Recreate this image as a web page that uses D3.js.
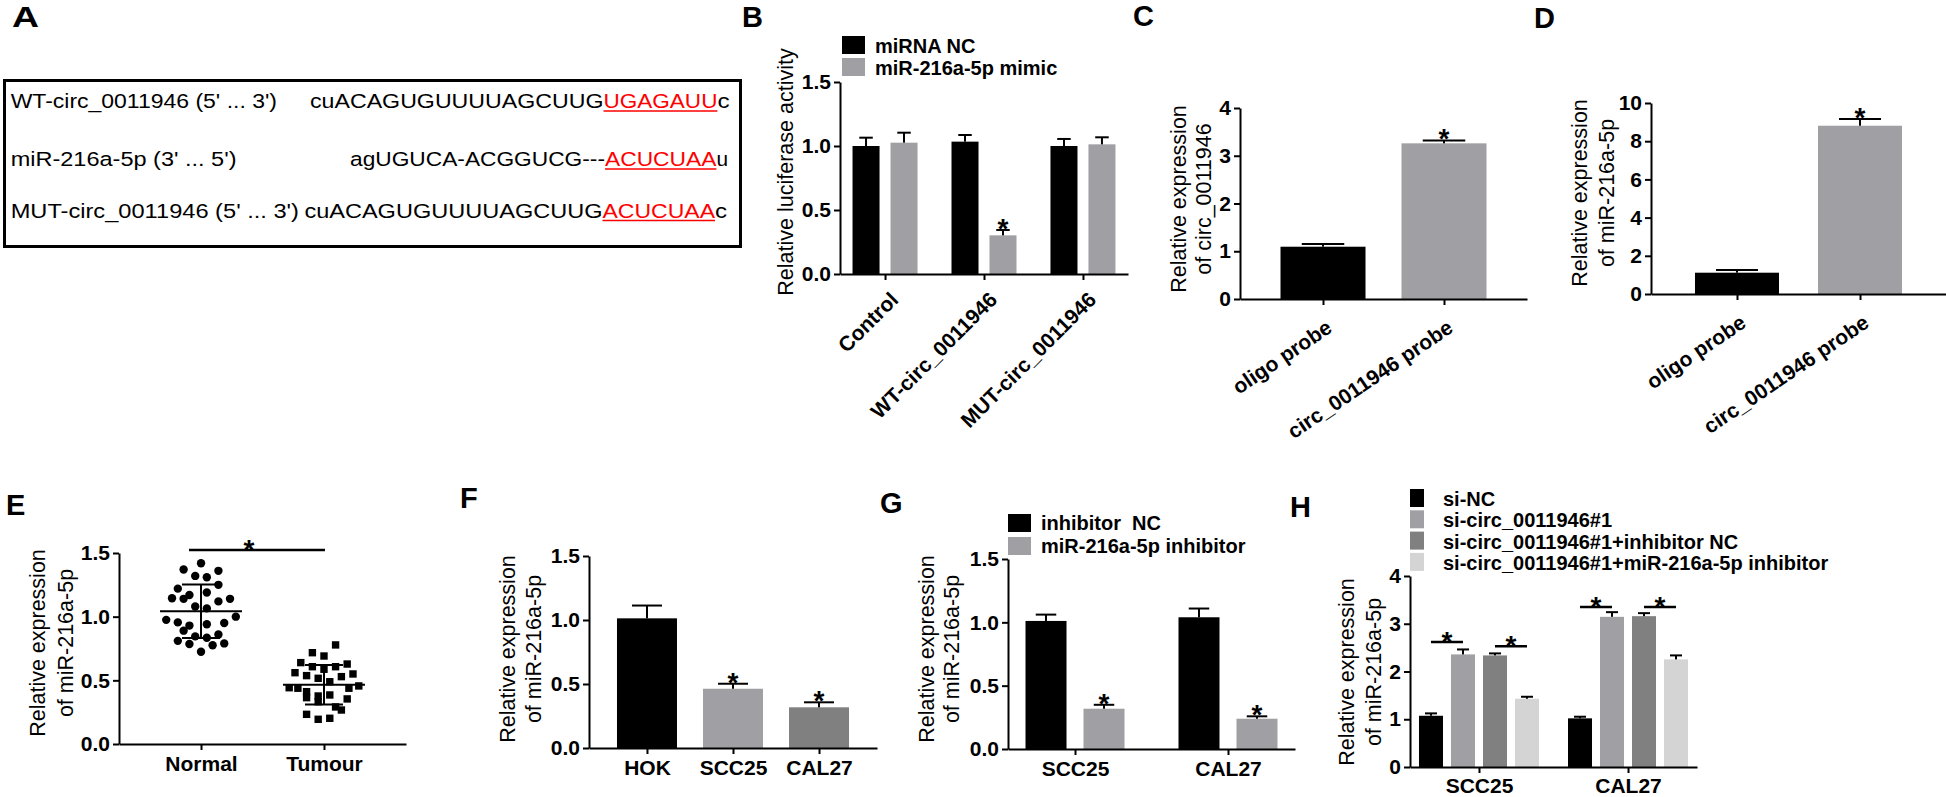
<!DOCTYPE html>
<html>
<head>
<meta charset="utf-8">
<script src="https://cdn.jsdelivr.net/npm/d3@7"></script>
<style>
    body { margin: 0; background: #fff; }
    svg text { font-family: "Liberation Sans", Arial, Helvetica, sans-serif; }
</style>
</head>
<body>
<div id="figure"></div>
<script>
// ---- data ----
// A: sequence alignment
var seqLabels = ["WT-circ_0011946 (5' ... 3')", "miR-216a-5p (3' ... 5')", "MUT-circ_0011946 (5' ... 3')"];
var seqBodies = ["cuACAGUGUUUUAGCUUG", "agUGUCA-ACGGUCG---", "cuACAGUGUUUUAGCUUG"];
var seqSites = ["UGAGAUU", "ACUCUAA", "ACUCUAA"];
var seqTails = ["c", "u", "c"];

// B: luciferase
var bGroups = ["Control", "WT-circ_0011946", "MUT-circ_0011946"];
var bSeries = ["miRNA NC", "miR-216a-5p mimic"];
var bMean = [[1.00, 1.026], [1.034, 0.302], [1.00, 1.013]];
var bErr = [[0.065, 0.078], [0.052, 0.042], [0.055, 0.055]];
var bSig = [[0, 0], [0, 1], [0, 0]];

// C: pull-down circ_0011946
var cGroups = ["oligo probe", "circ_0011946 probe"];
var cMean = [[1.095], [3.26]];
var cErr = [[0.057], [0.06]];
var cSig = [[0], [1]];

// D: pull-down miR-216a-5p
var dGroups = ["oligo probe", "circ_0011946 probe"];
var dMean = [[1.115], [8.81]];
var dErr = [[0.14], [0.35]];
var dSig = [[0], [1]];

// E: tissue scatter, [column, value]
var eGroups = ["Normal", "Tumour"];
var eNormal = [[0, 1.42], [-3, 1.37], [3, 1.36], [-1, 1.32], [1, 1.31], [3, 1.25], [-4, 1.22], [-2, 1.17],
    [1, 1.19], [-5, 1.145], [-3, 1.14], [5, 1.14], [3, 1.12], [-1, 1.08], [1, 1.065], [-6, 0.975],
    [-4, 0.955], [6, 1.0], [4, 0.95], [-3, 0.89], [-2, 0.93], [1, 0.94], [-1, 0.845], [1, 0.835],
    [3, 0.86], [-4, 0.81], [-2, 0.785], [2, 0.775], [4, 0.79], [0, 0.725]];
var eTumour = [[2, 0.778], [-2, 0.717], [0, 0.691], [-4, 0.639], [-2, 0.607], [0, 0.587], [2, 0.607],
    [4, 0.628], [-5, 0.56], [-3, 0.537], [-1, 0.516], [3, 0.529], [5, 0.55], [1, 0.489], [-6, 0.442],
    [-4.5, 0.438], [6, 0.456], [4.3, 0.438], [-3, 0.411], [-1, 0.377], [1, 0.385], [-3, 0.364],
    [-1, 0.332], [4, 0.354], [3, 0.267], [-3, 0.233], [-1, 0.194], [1, 0.202], [2, 0.291]];
var eMean = [1.042, 0.465];
var eSD = [0.21, 0.155];
var eSigLevel = 1.524;

// F: cell lines
var fGroups = ["HOK", "SCC25", "CAL27"];
var fMean = [[1.013], [0.463], [0.318]];
var fErr = [[0.1], [0.039], [0.039]];
var fSig = [[0], [1], [1]];

// G: inhibitor
var gGroups = ["SCC25", "CAL27"];
var gSeries = ["inhibitor  NC", "miR-216a-5p inhibitor"];
var gMean = [[1.011, 0.318], [1.04, 0.239]];
var gErr = [[0.05, 0.031], [0.069, 0.019]];
var gSig = [[0, 1], [0, 1]];

// H: rescue
var hGroups = ["SCC25", "CAL27"];
var hSeries = ["si-NC", "si-circ_0011946#1", "si-circ_0011946#1+inhibitor NC", "si-circ_0011946#1+miR-216a-5p inhibitor"];
var hMean = [[1.073, 2.358, 2.337, 1.429], [1.019, 3.145, 3.159, 2.254]];
var hErr = [[0.05, 0.104, 0.042, 0.042], [0.034, 0.098, 0.063, 0.083]];
var hPairs = [["SCC25", 0, 1, 2.62], ["SCC25", 2, 3, 2.53], ["CAL27", 0, 1, 3.35], ["CAL27", 2, 3, 3.35]];

var BLACK = '#000', GRAY = '#a0a0a4', DARK = '#808080', LIGHT = '#d4d4d4';
var svg;

document.addEventListener('DOMContentLoaded', function () {
    svg = d3.select('#figure').append('svg')
        .attr('width', 1946)
        .attr('height', 797);

    drawPanelA();

    drawBars({
        groups: bGroups, mean: bMean, err: bErr, sig: bSig, colors: [BLACK, GRAY], byGroup: false,
        xr: [840, 1128], pad: 0.455, yr: [274, 82], ydom: [0, 1.5], yticks: [0, 0.5, 1, 1.5], fmt: '.1f',
        span: 65, inner: 0.289, rot: 45, rotOff: [14, 27]
    });
    drawLegend(842, 36, bSeries, [BLACK, GRAY], 23, 18, 22, 875, 17);
    yTitle(['Relative luciferase activity'], [787], 172);

    drawBars({
        groups: cGroups, mean: cMean, err: cErr, sig: cSig, colors: [BLACK, GRAY], byGroup: true,
        xr: [1240, 1527], pad: 0.686, yr: [299, 108], ydom: [0, 4], yticks: [0, 1, 2, 3, 4], fmt: 'd',
        span: 85, inner: 0, rot: 34, rotOff: [10, 32]
    });
    yTitle(['Relative expression', 'of circ_0011946'], [1180, 1205], 199);

    drawBars({
        groups: dGroups, mean: dMean, err: dErr, sig: dSig, colors: [BLACK, GRAY], byGroup: true,
        xr: [1651, 1946], pad: 0.699, yr: [294, 103], ydom: [0, 10], yticks: [0, 2, 4, 6, 8, 10], fmt: 'd',
        span: 84, inner: 0, rot: 34, rotOff: [10, 32]
    });
    yTitle(['Relative expression', 'of miR-216a-5p'], [1581, 1608], 193);

    drawScatterE();
    yTitle(['Relative expression', 'of miR-216a-5p'], [39, 67], 643);

    drawBars({
        groups: fGroups, mean: fMean, err: fErr, sig: fSig, colors: [BLACK, GRAY, DARK], byGroup: true,
        xr: [589, 877], pad: 0.674, yr: [748, 556], ydom: [0, 1.5], yticks: [0, 0.5, 1, 1.5], fmt: '.1f',
        span: 60, inner: 0, tickPad: 6
    });
    yTitle(['Relative expression', 'of miR-216a-5p'], [509, 535], 649);

    drawBars({
        groups: gGroups, mean: gMean, err: gErr, sig: gSig, colors: [BLACK, GRAY], byGroup: false,
        xr: [1008, 1295], pad: 0.438, yr: [749, 559], ydom: [0, 1.5], yticks: [0, 0.5, 1, 1.5], fmt: '.1f',
        span: 99, inner: 0.293, tickPad: 6
    });
    drawLegend(1008, 514, gSeries, [BLACK, GRAY], 23, 18, 23, 1041, 16);
    yTitle(['Relative expression', 'of miR-216a-5p'], [928, 953], 649);

    var h = drawBars({
        groups: hGroups, mean: hMean, err: hErr, sig: null, colors: [BLACK, GRAY, DARK, LIGHT], byGroup: false,
        xr: [1410, 1697], pad: 0.463, yr: [767, 576], ydom: [0, 4], yticks: [0, 1, 2, 3, 4], fmt: 'd',
        span: 120, inner: 0.25, tickPad: 5
    });
    drawPairs(h);
    drawLegend(1410, 489, hSeries, [BLACK, GRAY, DARK, LIGHT], 14, 18, 21.3, 1443, 17);
    yTitle(['Relative expression', 'of miR-216a-5p'], [1348, 1375], 672);

    drawPanelLetters();
});

function drawPanelA() {
    var g = svg.append('g');
    // x spans of [label, sequence, site, tail] per line, baseline y
    var spans = [
        [[10.7, 277], [310, 603.5], [603.5, 717.4], [717.4, 729.5]],
        [[10.7, 236.5], [350, 605], [605, 716.4], [716.4, 728]],
        [[10.7, 299], [304.4, 602.5], [602.5, 715], [715, 727]]
    ];
    var baselines = [108, 166, 217.5];

    g.append('rect')
        .attr('x', 4.5).attr('y', 80.5).attr('width', 736).attr('height', 166)
        .attr('fill', 'none').attr('stroke', '#000').attr('stroke-width', 3);

    seqLabels.forEach(function (label, i) {
        var parts = [label, seqBodies[i], seqSites[i], seqTails[i]];
        parts.forEach(function (t, k) {
            g.append('text')
                .attr('x', spans[i][k][0]).attr('y', baselines[i])
                .attr('textLength', spans[i][k][1] - spans[i][k][0])
                .attr('lengthAdjust', 'spacingAndGlyphs')
                .attr('font-size', 20.5)
                .attr('fill', k === 2 ? '#ff0000' : '#000')
                .style('white-space', 'pre')
                .text(t);
        });
        g.append('line')
            .attr('x1', spans[i][2][0]).attr('x2', spans[i][2][1])
            .attr('y1', baselines[i] + 3).attr('y2', baselines[i] + 3)
            .attr('stroke', '#ff0000').attr('stroke-width', 1.5);
    });
}

function styleAxis(sel) {
    sel.attr('font-family', null).attr('font-size', 21).attr('font-weight', 'bold');
    sel.select('.domain').attr('stroke', '#000').attr('stroke-width', 2);
    sel.selectAll('.tick line').attr('stroke', '#000').attr('stroke-width', 2);
    sel.selectAll('.tick text').attr('fill', '#000');
}

function star(g, x, cy) {
    g.append('text')
        .attr('x', x).attr('y', cy + 16)
        .attr('text-anchor', 'middle')
        .attr('font-size', 28).attr('font-weight', 'bold')
        .text('*');
}

function drawBars(p) {
    var g = svg.append('g');
    var x = d3.scalePoint().domain(p.groups).range(p.xr).padding(p.pad);
    var y = d3.scaleLinear().domain(p.ydom).range(p.yr);
    var n = p.mean[0].length;
    var sub = d3.scaleBand().domain(d3.range(n)).range([-p.span / 2, p.span / 2]).paddingInner(p.inner);
    var bw = sub.bandwidth();

    p.groups.forEach(function (grp, i) {
        p.mean[i].forEach(function (v, j) {
            var bx = x(grp) + sub(j);
            g.append('rect')
                .attr('x', bx).attr('y', y(v))
                .attr('width', bw).attr('height', y(0) - y(v))
                .attr('fill', p.colors[p.byGroup ? i : j]);

            var ey = y(v + p.err[i][j]);
            g.append('line')
                .attr('x1', bx + bw / 2).attr('x2', bx + bw / 2)
                .attr('y1', y(v)).attr('y2', ey)
                .attr('stroke', '#000').attr('stroke-width', 2);
            g.append('line')
                .attr('x1', bx + bw / 4).attr('x2', bx + bw * 3 / 4)
                .attr('y1', ey).attr('y2', ey)
                .attr('stroke', '#000').attr('stroke-width', 2);
            if (p.sig && p.sig[i][j]) {
                star(g, bx + bw / 2, ey - 8);
            }
        });
    });

    g.append('g')
        .attr('transform', 'translate(' + p.xr[0] + ',0)')
        .call(d3.axisLeft(y).tickValues(p.yticks).tickFormat(d3.format(p.fmt))
            .tickSize(6).tickSizeOuter(0).tickPadding(3))
        .call(styleAxis);

    var xa = g.append('g')
        .attr('transform', 'translate(0,' + p.yr[0] + ')')
        .call(d3.axisBottom(x).tickSize(6).tickSizeOuter(0).tickPadding(p.tickPad || 6))
        .call(styleAxis);

    if (p.rot) {
        xa.selectAll('.tick text')
            .attr('x', 0).attr('y', 0).attr('dy', null)
            .attr('text-anchor', 'end')
            .attr('transform', 'translate(' + p.rotOff[0] + ',' + p.rotOff[1] + ') rotate(' + (-p.rot) + ')');
    }

    return {g: g, x: x, y: y, sub: sub, bw: bw};
}

function drawPairs(h) {
    hPairs.forEach(function (d) {
        var x1 = h.x(d[0]) + h.sub(d[1]) + h.bw / 2;
        var x2 = h.x(d[0]) + h.sub(d[2]) + h.bw / 2;
        var ly = h.y(d[3]);
        h.g.append('line')
            .attr('x1', x1).attr('x2', x2).attr('y1', ly).attr('y2', ly)
            .attr('stroke', '#000').attr('stroke-width', 2.5);
        star(h.g, (x1 + x2) / 2, ly - 7);
    });
}

function drawLegend(x, y0, names, colors, sw, sh, step, tx, baseOff) {
    var g = svg.append('g');
    names.forEach(function (name, i) {
        g.append('rect')
            .attr('x', x).attr('y', y0 + i * step)
            .attr('width', sw).attr('height', sh)
            .attr('fill', colors[i]);
        g.append('text')
            .attr('x', tx).attr('y', y0 + i * step + baseOff)
            .attr('font-size', 20).attr('font-weight', 'bold')
            .style('white-space', 'pre')
            .text(name);
    });
}

function yTitle(lines, cx, cy) {
    lines.forEach(function (t, i) {
        svg.append('text')
            .attr('transform', 'translate(' + cx[i] + ',' + cy + ') rotate(-90)')
            .attr('text-anchor', 'middle')
            .attr('dy', '0.3em')
            .attr('font-size', 21.5)
            .text(t);
    });
}

function drawScatterE() {
    var g = svg.append('g');
    var x = d3.scalePoint().domain(eGroups).range([119, 406]).padding(0.667);
    var y = d3.scaleLinear().domain([0, 1.5]).range([744, 553]);
    var col = 5.8;

    g.selectAll('.normal').data(eNormal).enter().append('circle')
        .attr('cx', d => x('Normal') + d[0] * col)
        .attr('cy', d => y(d[1]))
        .attr('r', 4.2)
        .attr('fill', '#000');

    g.selectAll('.tumour').data(eTumour).enter().append('rect')
        .attr('x', d => x('Tumour') + d[0] * col - 3.7)
        .attr('y', d => y(d[1]) - 3.7)
        .attr('width', 7.4).attr('height', 7.4)
        .attr('fill', '#000');

    // mean and SD
    eGroups.forEach(function (grp, i) {
        var cx = x(grp);
        g.append('line').attr('x1', cx - 41).attr('x2', cx + 41)
            .attr('y1', y(eMean[i])).attr('y2', y(eMean[i]))
            .attr('stroke', '#000').attr('stroke-width', 2);
        g.append('line').attr('x1', cx).attr('x2', cx)
            .attr('y1', y(eMean[i] - eSD[i])).attr('y2', y(eMean[i] + eSD[i]))
            .attr('stroke', '#000').attr('stroke-width', 2);
        [eMean[i] - eSD[i], eMean[i] + eSD[i]].forEach(function (v) {
            g.append('line').attr('x1', cx - 19).attr('x2', cx + 19)
                .attr('y1', y(v)).attr('y2', y(v))
                .attr('stroke', '#000').attr('stroke-width', 2);
        });
    });

    var x1 = x('Normal') - 12, x2 = x('Tumour') + 1, ly = y(eSigLevel);
    g.append('line').attr('x1', x1).attr('x2', x2).attr('y1', ly).attr('y2', ly)
        .attr('stroke', '#000').attr('stroke-width', 2.5);
    star(g, (x1 + x2) / 2 - 8, ly - 7);

    g.append('g')
        .attr('transform', 'translate(119,0)')
        .call(d3.axisLeft(y).tickValues([0, 0.5, 1, 1.5]).tickFormat(d3.format('.1f'))
            .tickSize(6).tickSizeOuter(0).tickPadding(3))
        .call(styleAxis);

    g.append('g')
        .attr('transform', 'translate(0,744)')
        .call(d3.axisBottom(x).tickSize(6).tickSizeOuter(0).tickPadding(6))
        .call(styleAxis);
}

function drawPanelLetters() {
    var letters = [['B', 742, 27], ['C', 1133, 26], ['D', 1534, 28], ['E', 6, 515],
        ['F', 460, 508], ['G', 880, 513], ['H', 1290, 517]];
    svg.append('text')
        .attr('x', 12).attr('y', 27)
        .attr('font-size', 30).attr('font-weight', 'bold')
        .attr('textLength', 27).attr('lengthAdjust', 'spacingAndGlyphs')
        .text('A');
    letters.forEach(function (l) {
        svg.append('text')
            .attr('x', l[1]).attr('y', l[2])
            .attr('font-size', 29).attr('font-weight', 'bold')
            .text(l[0]);
    });
}
</script>
</body>
</html>
